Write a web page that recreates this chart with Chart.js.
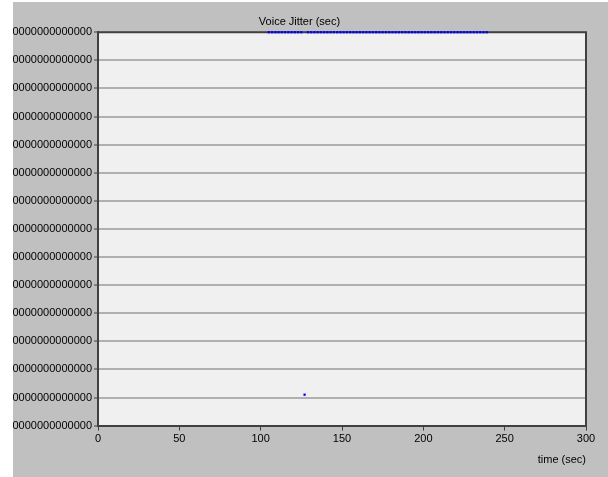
<!DOCTYPE html>
<html>
<head>
<meta charset="utf-8">
<script src="https://cdn.jsdelivr.net/npm/chart.js@4/dist/chart.umd.min.js"></script>
<style>
  html, body { margin: 0; padding: 0; background: #ffffff; }
  #panel { position: absolute; left: 13px; top: 2px; width: 595px; height: 475px; background: #c0c0c0; overflow: hidden; }
  canvas { display: block; }
</style>
</head>
<body>
<div id="panel"><canvas id="c" width="595" height="475"></canvas></div>
<script>
// ---- data ----
const chartTitle = "Voice Jitter (sec)";
const xAxisTitle = "time (sec)";
const xTicks = [0, 50, 100, 150, 200, 250, 300];
const yTickLabels = [
  "0.0000000000000000","0.0000000000000000","0.0000000000000000","0.0000000000000000",
  "0.0000000000000000","0.0000000000000000","0.0000000000000000","0.0000000000000000",
  "0.0000000000000000","0.0000000000000000","0.0000000000000000","0.0000000000000000",
  "0.0000000000000000","0.0000000000000000","0.0000000000000000"
];
const times = [
  105,107,109,111,113,115,117,119,121,123,125,127,129,131,133,135,137,139,141,143,
  145,147,149,151,153,155,157,159,161,163,165,167,169,171,173,175,177,179,181,183,
  185,187,189,191,193,195,197,199,201,203,205,207,209,211,213,215,217,219,221,223,
  225,227,229,231,233,235,237,239
];
const jitter = [
  14,14,14,14,14,14,14,14,14,14,14,1.1,14,14,14,14,14,14,14,14,
  14,14,14,14,14,14,14,14,14,14,14,14,14,14,14,14,14,14,14,14,
  14,14,14,14,14,14,14,14,14,14,14,14,14,14,14,14,14,14,14,14,
  14,14,14,14,14,14,14,14
];

const points = times.map((t, i) => ({ x: t, y: jitter[i] }));

const plotDecor = {
  id: 'plotDecor',
  beforeDraw(chart) {
    const { ctx, chartArea: a } = chart;
    ctx.save();
    ctx.fillStyle = '#f0f0f0';
    ctx.fillRect(a.left, a.top, a.right - a.left, a.bottom - a.top);
    ctx.restore();
  },
  beforeDatasetsDraw(chart) {
    const { ctx, chartArea: a } = chart;
    ctx.save();
    ctx.strokeStyle = '#404040';
    ctx.lineWidth = 2;
    ctx.beginPath();
    ctx.moveTo(a.left, a.top);
    ctx.lineTo(a.right, a.top);
    ctx.lineTo(a.right, a.bottom);
    ctx.stroke();
    ctx.restore();
  }
};

const font = { family: "'Liberation Sans', Arial, sans-serif", size: 11 };

new Chart(document.getElementById('c'), {
  type: 'scatter',
  data: {
    datasets: [{
      data: points,
      showLine: false,
      pointStyle: 'rect',
      pointRadius: 1.6,
      pointBorderWidth: 0,
      backgroundColor: '#0000ff',
      borderColor: '#0000ff',
      clip: false
    }]
  },
  plugins: [plotDecor],
  options: {
    responsive: false,
    animation: false,
    events: [],
    layout: { padding: { left: 0, right: 22, top: 0, bottom: 10 } },
    plugins: {
      legend: { display: false },
      tooltip: { enabled: false },
      title: {
        display: true,
        text: chartTitle,
        color: '#000000',
        font: { ...font, weight: 'normal' },
        padding: { top: 13, bottom: 4 }
      }
    },
    scales: {
      x: {
        type: 'linear',
        min: 0, max: 300,
        afterBuildTicks(scale) { scale.ticks = xTicks.map(v => ({ value: v })); },
        grid: { drawOnChartArea: false, drawTicks: true, tickLength: 5, tickColor: '#404040', tickWidth: 1 },
        border: { display: true, color: '#404040', width: 2 },
        ticks: { color: '#000000', font, padding: 2, maxRotation: 0 },
        title: { display: true, text: xAxisTitle, align: 'end', color: '#000000', font, padding: { top: 6, bottom: 0 } }
      },
      y: {
        type: 'linear',
        min: 0, max: 14,
        afterFit(scale) { scale.width = 85; },
        ticks: {
          stepSize: 1,
          color: '#000000',
          font,
          padding: 2,
          callback: (v, i) => yTickLabels[i]
        },
        grid: { color: '#b0b0b0', lineWidth: 2, drawTicks: true, tickLength: 4, tickColor: '#404040', tickWidth: 1 },
        border: { display: true, color: '#404040', width: 2 }
      }
    }
  }
});
</script>
</body>
</html>
